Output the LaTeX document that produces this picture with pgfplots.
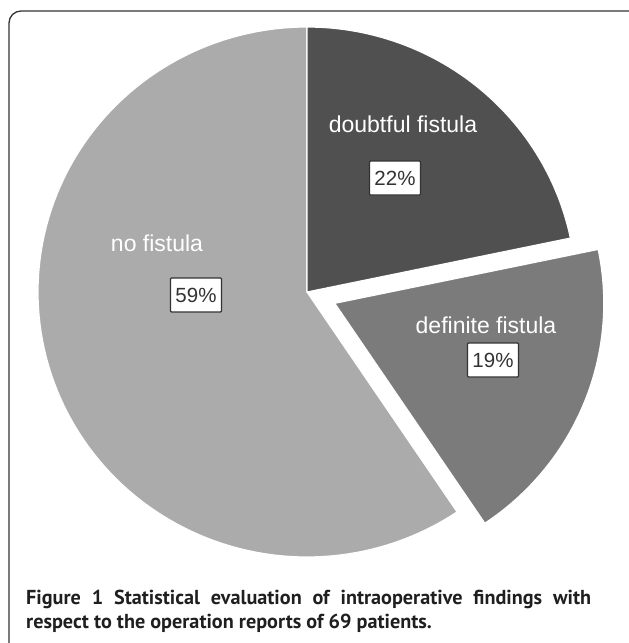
\documentclass[border=0pt]{standalone}
\usepackage{pgfplots}
\usepackage{pgfplotstable}
\pgfplotsset{compat=1.18}
\usepackage{fontspec}
\setmainfont{Liberation Sans}
\newfontfamily\capfont{PT Sans}
\definecolor{cDark}{HTML}{505050}
\definecolor{cMid}{HTML}{7B7B7B}
\definecolor{cLight}{HTML}{ABABAB}
\definecolor{cFrame}{HTML}{333333}

\pgfplotstableread{
category count percent
doubtful 15 22
definite 13 19
none 41 59
}\piedata

\begin{document}
\begin{tikzpicture}
\pgfplotstablegetelem{0}{count}\of\piedata \let\nD\pgfplotsretval
\pgfplotstablegetelem{1}{count}\of\piedata \let\nF\pgfplotsretval
\pgfplotstablegetelem{2}{count}\of\piedata \let\nN\pgfplotsretval
\pgfmathsetmacro\total{\nD+\nF+\nN}
\pgfmathsetmacro\aD{90-360*\nD/\total}
\pgfmathsetmacro\aF{\aD-360*\nF/\total}
\pgfmathsetmacro\aN{\aF+360}
\pgfmathsetmacro\mF{(\aD+\aF)/2}
\pgfmathsetmacro\ex{307+30*cos(\mF)}
\pgfmathsetmacro\ey{292-30*sin(\mF)}
\begin{axis}[
  scale only axis, width=629pt, height=643pt,
  xmin=0, xmax=629, ymin=0, ymax=643, y dir=reverse,
  hide axis, clip=true,
]
% frame
\draw[cFrame, line width=1.3pt, rounded corners=12pt] (axis cs:9,11) rectangle (axis cs:660,680);
% no fistula
\addplot[fill=cLight, draw=white, line width=1.2pt, domain=90:\aN, samples=120, variable=\t]
  ({307+269*cos(\t)}, {292-265*sin(\t)}) -- (axis cs:307,292) -- cycle;
% doubtful fistula
\addplot[fill=cDark, draw=white, line width=1.2pt, domain=\aD:90, samples=60, variable=\t]
  ({307+269*cos(\t)}, {292-265*sin(\t)}) -- (axis cs:307,292) -- cycle;
% definite fistula (exploded)
\addplot[fill=cMid, draw=white, line width=1.2pt, domain=\aF:\aD, samples=60, variable=\t]
  ({\ex+269*cos(\t)}, {\ey-265*sin(\t)}) -- (axis cs:\ex,\ey) -- cycle;
% labels
\node[white, font=\fontsize{23}{26}\selectfont, anchor=base] at (axis cs:403,132) {doubtful fistula};
\node[white, font=\fontsize{23}{26}\selectfont, anchor=base] at (axis cs:157,251) {no fistula};
\node[white, font=\fontsize{23}{26}\selectfont, anchor=base] at (axis cs:486,333) {definite fistula};
\tikzset{pct/.style={fill=white, draw=cFrame, line width=1.2pt, rounded corners=1pt, text=cFrame,
  font=\fontsize{20.5}{22}\selectfont, minimum width=51pt, minimum height=34pt, inner sep=2pt}}
\node[pct] at (axis cs:395,178) {22\%};
\node[pct] at (axis cs:196,295) {59\%};
\node[pct] at (axis cs:493,360) {19\%};
% caption
\node[anchor=base west, font=\capfont\bfseries\fontsize{20.2}{24}\selectfont, text=black!88, inner sep=0pt] at (axis cs:26,604)
  {\makebox[565pt][s]{Figure 1 Statistical evaluation of intraoperative findings with}};
\node[anchor=base west, font=\capfont\bfseries\fontsize{20.2}{24}\selectfont, text=black!88, inner sep=0pt] at (axis cs:26,628)
  {respect to the operation reports of 69 patients.};
\end{axis}
\pgfresetboundingbox
\path[use as bounding box] (current axis.south west) rectangle (current axis.north east);
\end{tikzpicture}
\end{document}
